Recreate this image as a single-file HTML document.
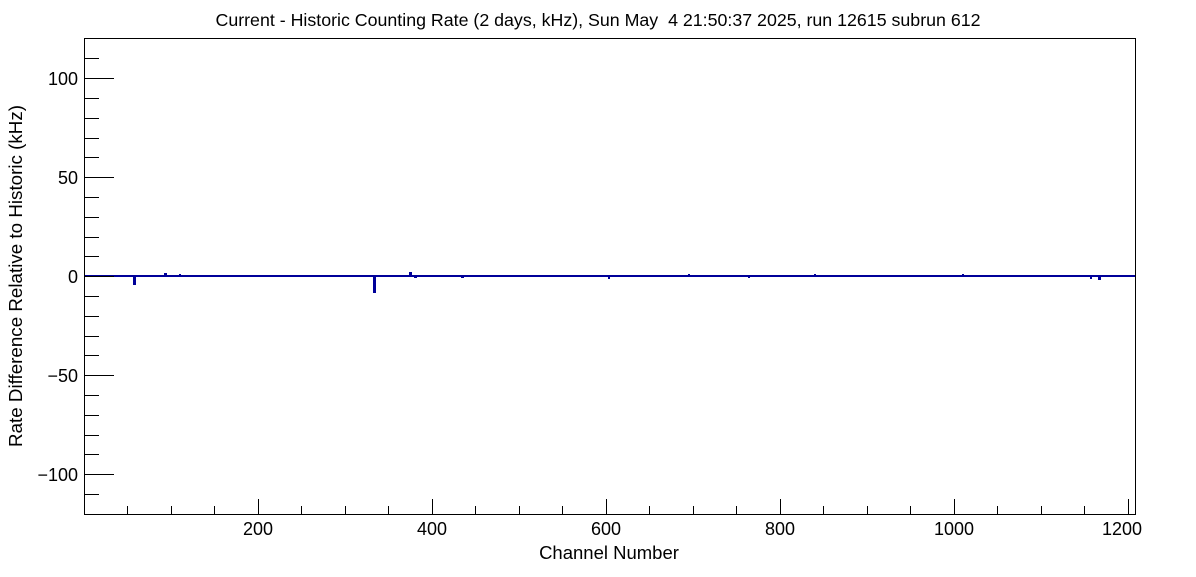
<!DOCTYPE html>
<html><head><style>body{margin:0;background:#fff}</style></head><body>
<svg width="1196" height="572" xmlns="http://www.w3.org/2000/svg" font-family="Liberation Sans, sans-serif">
<rect width="1196" height="572" fill="#fff"/>
<text x="598" y="26" font-size="17.8" text-anchor="middle" style="white-space:pre" xml:space="preserve">Current - Historic Counting Rate (2 days, kHz), Sun May  4 21:50:37 2025, run 12615 subrun 612</text>
<g fill="#000099">
<rect x="84" y="275" width="1051" height="2"/>
<rect x="133" y="275" width="3" height="10"/>
<rect x="164" y="273" width="3" height="4"/>
<rect x="179" y="274" width="2" height="3"/>
<rect x="373" y="275" width="3" height="18"/>
<rect x="409" y="272" width="3" height="4"/>
<rect x="414" y="275" width="3" height="3"/>
<rect x="461" y="275" width="3" height="3"/>
<rect x="608" y="275" width="2" height="4"/>
<rect x="688" y="274" width="2" height="3"/>
<rect x="748" y="275" width="2" height="3"/>
<rect x="814" y="274" width="2" height="3"/>
<rect x="962" y="274" width="2" height="3"/>
<rect x="1090" y="275" width="2" height="4"/>
<rect x="1098" y="275" width="3" height="5"/>
</g>
<rect x="84.5" y="38.5" width="1051" height="476" stroke="#000" stroke-width="1" fill="none"/>
<g font-size="18" text-anchor="end">
<text x="78" y="85">100</text>
<text x="78" y="184">50</text>
<text x="78" y="283">0</text>
<text x="78" y="382">−50</text>
<text x="78" y="481">−100</text>
</g>
<g font-size="18" text-anchor="middle">
<text x="258" y="535">200</text>
<text x="432" y="535">400</text>
<text x="606" y="535">600</text>
<text x="780" y="535">800</text>
<text x="954" y="535">1000</text>
<text x="1122" y="535">1200</text>
</g>
<text x="609" y="559" font-size="18.5" text-anchor="middle">Channel Number</text>
<text transform="translate(22,276) rotate(-90)" font-size="18.8" text-anchor="middle">Rate Difference Relative to Historic (kHz)</text>
<path stroke="#000" stroke-width="1" d="
M84 58.5h15M84 78.5h30M84 98.5h15M84 118.5h15M84 138.5h15M84 157.5h15M84 177.5h30M84 197.5h15M84 217.5h15M84 237.5h15M84 256.5h15M84 276.5h30M84 296.5h15M84 316.5h15M84 336.5h15M84 355.5h15M84 375.5h30M84 395.5h15M84 415.5h15M84 435.5h15M84 454.5h15M84 474.5h30M84 494.5h15
M127.5 514v-8M171.5 514v-8M214.5 514v-8M258.5 514v-15M301.5 514v-8M345.5 514v-8M388.5 514v-8M432.5 514v-15M475.5 514v-8M519.5 514v-8M562.5 514v-8M606.5 514v-15M649.5 514v-8M693.5 514v-8M736.5 514v-8M780.5 514v-15M823.5 514v-8M867.5 514v-8M910.5 514v-8M954.5 514v-15M997.5 514v-8M1041.5 514v-8M1084.5 514v-8M1128.5 514v-15"/>
</svg>
</body></html>
